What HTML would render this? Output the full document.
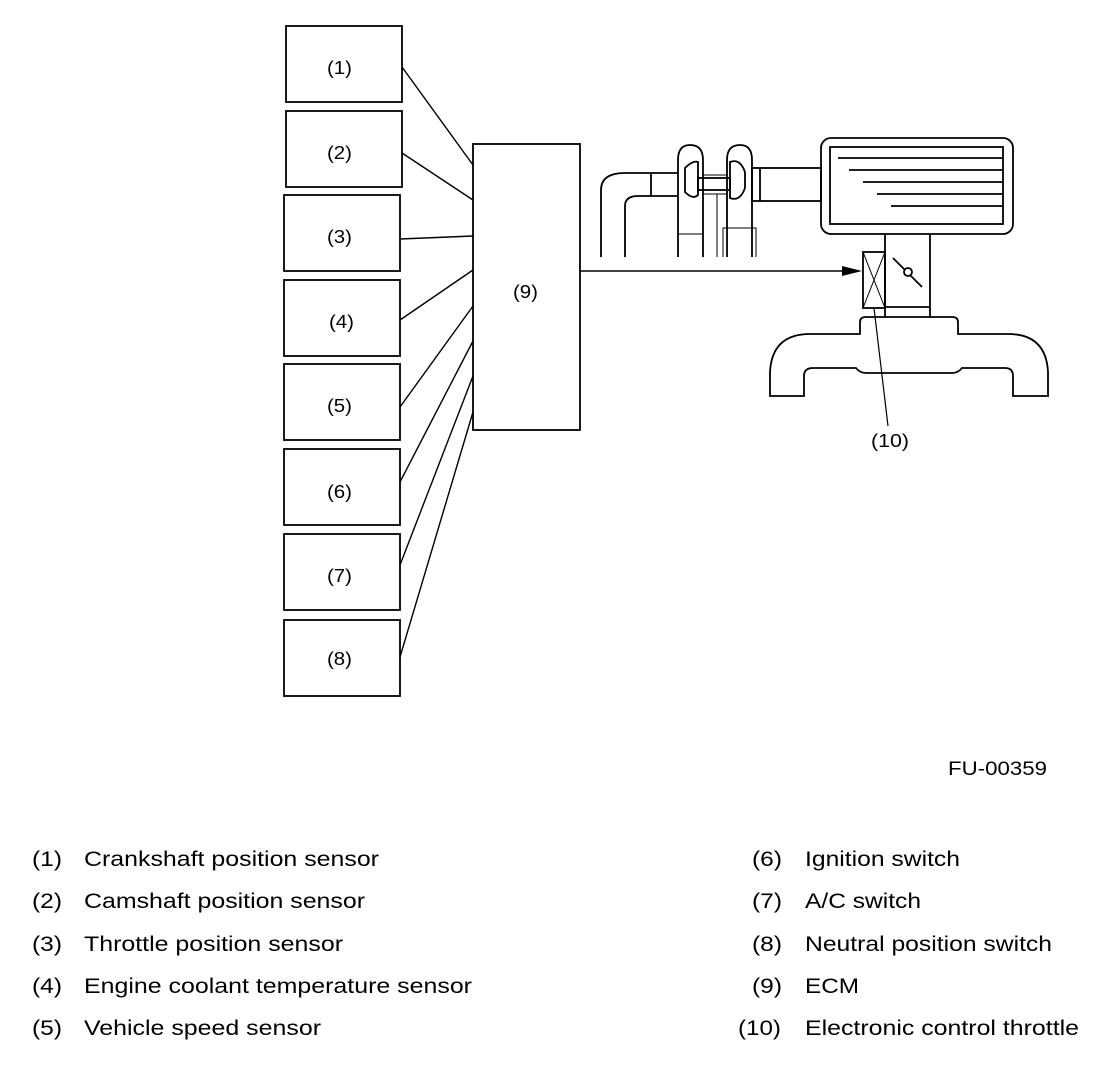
<!DOCTYPE html>
<html><head><style>
html,body{margin:0;padding:0;background:#fff;}
svg text{font-family:"Liberation Sans",sans-serif;fill:#000;}
</style></head><body>
<svg width="1120" height="1066" viewBox="0 0 1120 1066" xmlns="http://www.w3.org/2000/svg">
<g fill="none" stroke="#000" stroke-width="1.8">
<rect x="286" y="26" width="116" height="76"/>
<rect x="286" y="111" width="116" height="76"/>
<rect x="284" y="195" width="116" height="76"/>
<rect x="284" y="280" width="116" height="76"/>
<rect x="284" y="364" width="116" height="76"/>
<rect x="284" y="449" width="116" height="76"/>
<rect x="284" y="534" width="116" height="76"/>
<rect x="284" y="620" width="116" height="76"/>
<rect x="473" y="144" width="107" height="286"/>
</g>
<g fill="none" stroke="#000" stroke-width="1.4">
<line x1="402" y1="67" x2="473" y2="165"/>
<line x1="402" y1="153" x2="473" y2="200"/>
<line x1="400" y1="239" x2="473" y2="236"/>
<line x1="400" y1="320" x2="473" y2="270"/>
<line x1="400" y1="407" x2="473" y2="306"/>
<line x1="400" y1="482" x2="473" y2="341"/>
<line x1="400" y1="565" x2="473" y2="376"/>
<line x1="400" y1="657" x2="473" y2="412"/>
<line x1="580" y1="271" x2="846" y2="271"/>
</g>
<polygon points="842,266 862,271 842,276" fill="#000"/>
<g fill="none" stroke="#000" stroke-width="1.8">
<rect x="821" y="138" width="192" height="96" rx="10"/>
<rect x="830" y="147" width="173" height="77"/>
<line x1="838" y1="158" x2="1003" y2="158"/>
<line x1="849" y1="170" x2="1003" y2="170"/>
<line x1="863" y1="182" x2="1003" y2="182"/>
<line x1="877" y1="194" x2="1003" y2="194"/>
<line x1="891" y1="206" x2="1003" y2="206"/>
<line x1="885" y1="234" x2="885" y2="317"/>
<line x1="930" y1="234" x2="930" y2="317"/>
<line x1="885" y1="307" x2="930" y2="307"/>
<rect x="863" y="252" width="22" height="56"/>
<line x1="863" y1="252" x2="885" y2="308" stroke-width="1"/>
<line x1="885" y1="252" x2="863" y2="308" stroke-width="1"/>
<line x1="893" y1="258" x2="922" y2="287"/>
<circle cx="908" cy="272" r="4" fill="#fff"/>
<line x1="874" y1="308" x2="888" y2="426" stroke-width="1.2"/>
<path d="M770,396 L770,372 Q772,334 810,334 L860,334 L860,322 Q860,317 866,317 L952,317 Q958,317 958,322 L958,334 L1008,334 Q1046,334 1048,372 L1048,396 L1013,396 L1013,376 Q1013,368 1005,368 L962,368 Q958,373 952,373 L866,373 Q860,373 856,368 L813,368 Q804,368 804,376 L804,396 Z"/>
<path d="M601,257 L601,190 Q601,173 625,173 L678,173"/>
<path d="M625,257 L625,206 Q625,196 638,196 L678,196"/>
<line x1="651" y1="173" x2="651" y2="196"/>
<path d="M678,257 L678,160 Q678,145 690,145 Q703,145 703,160 L703,257"/>
<path d="M727,257 L727,160 Q727,145 740,145 Q752,145 752,160 L752,257"/>
<path d="M685,168 Q693,160 698,162 L698,195 Q693,200 685,192 Z"/>
<path d="M730,162 Q740,158 745,172 L745,188 Q740,202 730,198 Z"/>
<rect x="698" y="178" width="32" height="12"/>
<line x1="703" y1="175" x2="727" y2="175" stroke-width="1"/>
<line x1="703" y1="194" x2="727" y2="194" stroke-width="1"/>
<line x1="717" y1="194" x2="717" y2="257" stroke-width="1"/>
<line x1="678" y1="234" x2="703" y2="234" stroke-width="1"/>
<path d="M723,257 L723,228 L756,228 L756,257" stroke-width="1"/>
<rect x="752" y="168" width="69" height="33"/>
<line x1="760" y1="168" x2="760" y2="201"/>
</g>
<g font-size="18">
<text x="327" y="74" textLength="25" lengthAdjust="spacingAndGlyphs">(1)</text>
<text x="327" y="159" textLength="25" lengthAdjust="spacingAndGlyphs">(2)</text>
<text x="327" y="243" textLength="25" lengthAdjust="spacingAndGlyphs">(3)</text>
<text x="329" y="328" textLength="25" lengthAdjust="spacingAndGlyphs">(4)</text>
<text x="327" y="412" textLength="25" lengthAdjust="spacingAndGlyphs">(5)</text>
<text x="327" y="498" textLength="25" lengthAdjust="spacingAndGlyphs">(6)</text>
<text x="327" y="582" textLength="25" lengthAdjust="spacingAndGlyphs">(7)</text>
<text x="327" y="665" textLength="25" lengthAdjust="spacingAndGlyphs">(8)</text>
<text x="513" y="298" textLength="25" lengthAdjust="spacingAndGlyphs">(9)</text>
<text x="871" y="447" textLength="38" lengthAdjust="spacingAndGlyphs">(10)</text>
</g>
<text x="948" y="775" font-size="19" textLength="99" lengthAdjust="spacingAndGlyphs">FU-00359</text>
<g font-size="21">
<text x="32" y="866" textLength="30" lengthAdjust="spacingAndGlyphs">(1)</text><text x="84" y="866" textLength="295" lengthAdjust="spacingAndGlyphs">Crankshaft position sensor</text>
<text x="32" y="908" textLength="30" lengthAdjust="spacingAndGlyphs">(2)</text><text x="84" y="908" textLength="281" lengthAdjust="spacingAndGlyphs">Camshaft position sensor</text>
<text x="32" y="951" textLength="30" lengthAdjust="spacingAndGlyphs">(3)</text><text x="84" y="951" textLength="259" lengthAdjust="spacingAndGlyphs">Throttle position sensor</text>
<text x="32" y="993" textLength="30" lengthAdjust="spacingAndGlyphs">(4)</text><text x="84" y="993" textLength="388" lengthAdjust="spacingAndGlyphs">Engine coolant temperature sensor</text>
<text x="32" y="1035" textLength="30" lengthAdjust="spacingAndGlyphs">(5)</text><text x="84" y="1035" textLength="237" lengthAdjust="spacingAndGlyphs">Vehicle speed sensor</text>
<text x="752" y="866" textLength="30" lengthAdjust="spacingAndGlyphs">(6)</text><text x="805" y="866" textLength="155" lengthAdjust="spacingAndGlyphs">Ignition switch</text>
<text x="752" y="908" textLength="30" lengthAdjust="spacingAndGlyphs">(7)</text><text x="805" y="908" textLength="116" lengthAdjust="spacingAndGlyphs">A/C switch</text>
<text x="752" y="951" textLength="30" lengthAdjust="spacingAndGlyphs">(8)</text><text x="805" y="951" textLength="247" lengthAdjust="spacingAndGlyphs">Neutral position switch</text>
<text x="752" y="993" textLength="30" lengthAdjust="spacingAndGlyphs">(9)</text><text x="805" y="993" textLength="54" lengthAdjust="spacingAndGlyphs">ECM</text>
<text x="738" y="1035" textLength="43" lengthAdjust="spacingAndGlyphs">(10)</text><text x="805" y="1035" textLength="274" lengthAdjust="spacingAndGlyphs">Electronic control throttle</text>
</g>
</svg>
</body></html>
